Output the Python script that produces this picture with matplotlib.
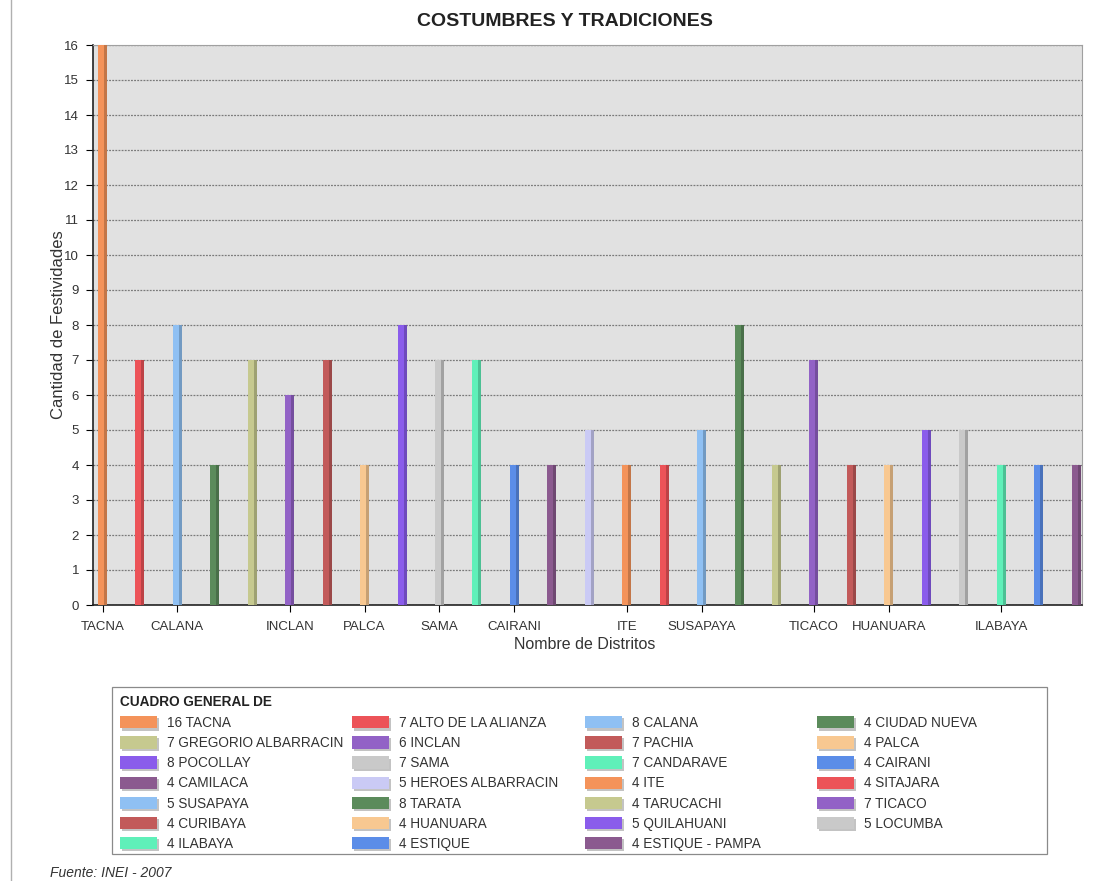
import numpy as np
import matplotlib
matplotlib.use("Agg")
import matplotlib.pyplot as plt
from matplotlib.patches import Patch, Rectangle
from matplotlib.lines import Line2D
import matplotlib.colors as mcolors
import matplotlib.patheffects as pe

plt.rcParams['font.family'] = ['Liberation Sans', 'DejaVu Sans']

distritos = ["TACNA", "ALTO DE LA ALIANZA", "CALANA", "CIUDAD NUEVA",
             "GREGORIO ALBARRACIN", "INCLAN", "PACHIA", "PALCA",
             "POCOLLAY", "SAMA", "CANDARAVE", "CAIRANI",
             "CAMILACA", "HEROES ALBARRACIN", "ITE", "SITAJARA",
             "SUSAPAYA", "TARATA", "TARUCACHI", "TICACO",
             "CURIBAYA", "HUANUARA", "QUILAHUANI", "LOCUMBA",
             "ILABAYA", "ESTIQUE", "ESTIQUE - PAMPA"]
festividades = [16, 7, 8, 4, 7, 6, 7, 4, 8, 7, 7, 4, 4, 5, 4, 4, 5, 8, 4, 7,
                4, 4, 5, 5, 4, 4, 4]
tick_labels = ["TACNA", "CALANA", "INCLAN", "PALCA", "SAMA", "CAIRANI",
               "ITE", "SUSAPAYA", "TICACO", "HUANUARA", "ILABAYA"]
palette = ["#f4935a", "#ec5358", "#8fc0f3", "#5b8b5b", "#c6c98f", "#9262c6",
           "#c25a5a", "#f8c891", "#8a5ceb", "#c9c9c9", "#5ff0b9", "#5b8de8",
           "#8b5a8f", "#cacaf5"]

colores = [palette[i % len(palette)] for i in range(len(distritos))]
x = np.arange(len(distritos))

W, H = 1104, 881
fig = plt.figure(figsize=(W/100, H/100), dpi=100)
ax = fig.add_axes([93/W, 1 - 605/H, (1082-93)/W, (605-45)/H])
ax.set_facecolor("#e1e1e1")

# bars with a darker right side for the pseudo 3D look
ax.bar(x, festividades, width=0.24, color=colores, zorder=3)
oscuros = [tuple(np.array(mcolors.to_rgb(c)) * 0.8) for c in colores]
ax.bar(x + 0.08, festividades, width=0.08, color=oscuros, zorder=4)

ax.set_xlim(-0.254, 26.16)
ax.set_ylim(0, 16)
ax.set_yticks(range(0, 17))
ax.tick_params(axis='y', labelsize=9.5, length=5, pad=5, direction='out',
               labelcolor="#333333")
ax.set_xticks([distritos.index(t) for t in tick_labels])
ax.set_xticklabels(tick_labels)
ax.tick_params(axis='x', labelsize=9.5, length=5, pad=6.5, direction='out',
               labelcolor="#333333")
ax.yaxis.grid(True, linestyle=(0, (1.5, 1)), color="#7a7a7a", linewidth=0.9, zorder=1)
ax.set_axisbelow(True)

for s in ["top", "right"]:
    ax.spines[s].set_color("#a0a0a0")
for s in ["left", "bottom"]:
    ax.spines[s].set_color("#222222")
    ax.spines[s].set_linewidth(1.2)

ax.set_xlabel("Nombre de Distritos", fontsize=11.5, color="#333333")
ax.xaxis.set_label_coords(0.497, (605-637)/560)
ax.set_ylabel("Cantidad de Festividades", fontsize=12, color="#333333")
ax.yaxis.set_label_coords((66-93)/989, 0.5)

fig.text(565/W, 1 - 21/H, "COSTUMBRES Y TRADICIONES", ha="center", va="center",
         fontsize=14, fontweight="bold", color="#222222")

# legend box: four columns filled row by row
labels = [f"{v} {d}" for v, d in zip(festividades, distritos)]
sombra = [pe.withSimplePatchShadow(offset=(1.5, -1.5), shadow_rgbFace="#888888", alpha=0.5),
          pe.Normal()]
handles = [Patch(facecolor=c, edgecolor="none", path_effects=sombra) for c in colores]
ncol = 4
col_x = [120, 352, 585, 817]
for c in range(ncol):
    idx = list(range(c, len(labels), ncol))
    fig.legend([handles[i] for i in idx], [labels[i] for i in idx],
               loc="upper left", bbox_to_anchor=(col_x[c]/W, 1 - 716/H),
               frameon=False, fontsize=9.8, handlelength=2.7, handleheight=1.0,
               handletextpad=0.75, labelspacing=0.45, borderpad=0, borderaxespad=0,
               labelcolor="#333333")

fig.add_artist(Rectangle((112/W, 1 - 854/H), (1047-112)/W, (854-687)/H,
                         transform=fig.transFigure, facecolor="none",
                         edgecolor="#8a8a8a", linewidth=0.9))
fig.text(120/W, 1 - 702/H, "CUADRO GENERAL DE", fontsize=9.8, fontweight="bold",
         ha="left", va="center", color="#222222")

fig.text(50/W, 1 - 873/H, "Fuente: INEI - 2007", fontsize=10, style="italic",
         ha="left", va="center", color="#333333")
fig.add_artist(Line2D([11/W, 11/W], [0, 1], color="#b0b0b0", linewidth=1))

fig.savefig("out.png", dpi=100)
